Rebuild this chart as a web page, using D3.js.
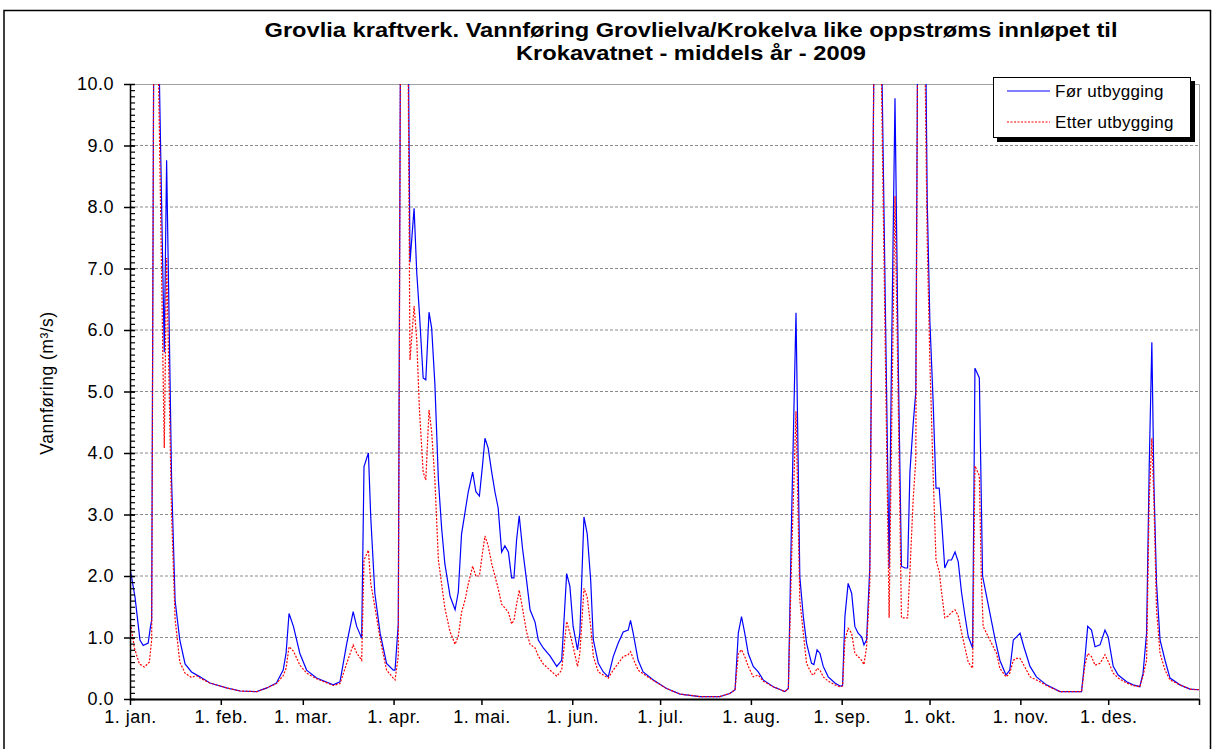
<!DOCTYPE html>
<html lang="no">
<head>
<meta charset="UTF-8">
<title>Grovlia kraftverk</title>
<script src="https://d3js.org/d3.v7.min.js"></script>
<style>
  body { margin: 0; background: #fff; }
  text { font-family: "Liberation Sans", Arial, sans-serif; }
</style>
</head>
<body>
<div class="canvas"></div>
<script>
  // dag i året (0 = 1. jan) og vannføring m3/s, lest av figuren
  const forData = [[0,2.13],[1.7,1.66],[3.4,0.96],[4.5,0.87],[6.2,0.91],[7,1.18],[7.4,1.28],[8.2,12],[9.5,11.5],[11.7,5.64],[12.5,8.76],[14.2,3.56],[15.4,1.6],[17,0.96],[18.8,0.57],[21,0.44],[23.9,0.36],[27.3,0.26],[33,0.18],[37.6,0.13],[43.3,0.12],[46.7,0.18],[50,0.26],[52.3,0.47],[53.3,0.75],[54.3,1.39],[55.8,1.18],[58,0.74],[60.3,0.47],[63.7,0.34],[69.4,0.23],[71.7,0.28],[74,0.9],[76.2,1.42],[77.4,1.18],[79.1,0.99],[79.9,3.78],[81.4,4.0],[82.2,2.96],[83.6,1.72],[85.4,1.07],[87.6,0.58],[89.9,0.47],[90.5,0.47],[91.6,1.22],[92.6,14],[94.5,14],[95.6,7.1],[97,7.98],[97.9,6.94],[98.8,6.29],[100.1,5.22],[101,5.19],[102.1,6.29],[103,6.03],[104.1,5.12],[105.3,3.56],[106.4,2.78],[107.5,2.2],[109.3,1.67],[111,1.45],[112.1,1.74],[113.2,2.68],[114.4,3.04],[115.5,3.37],[117,3.69],[118.1,3.37],[119.3,3.3],[120.4,3.82],[121.2,4.24],[122.3,4.08],[123.5,3.69],[124.6,3.37],[125.7,3.11],[126.9,2.39],[128,2.49],[129.2,2.39],[130.3,1.97],[131.1,1.97],[132,2.59],[132.9,2.98],[134,2.46],[135.4,1.93],[136.6,1.45],[138.3,1.25],[139.4,0.96],[141.1,0.83],[143.4,0.7],[145.7,0.53],[147.4,0.63],[149.1,2.04],[150.2,1.83],[151.3,1.18],[152.8,0.8],[153.6,1.07],[155,2.96],[156.1,2.69],[157.3,1.93],[158.2,0.96],[159.9,0.58],[161.6,0.44],[163.3,0.36],[165,0.69],[166.7,0.91],[168.4,1.09],[170.1,1.12],[170.9,1.28],[171.8,1.07],[173.5,0.63],[175.2,0.44],[178.7,0.31],[183.2,0.17],[187.8,0.08],[194.6,0.04],[201.4,0.04],[204.8,0.09],[206.6,0.15],[207.7,1.07],[208.8,1.34],[209.9,1.07],[211.1,0.74],[212.8,0.53],[214.5,0.44],[216.2,0.31],[219.6,0.2],[223.6,0.12],[224.8,0.17],[225.9,2.96],[227.4,6.28],[228.7,1.99],[229.9,1.34],[231,0.91],[232.7,0.58],[233.5,0.56],[234.6,0.8],[235.6,0.74],[236.7,0.53],[238.4,0.36],[240.7,0.26],[242.4,0.21],[243.3,0.22],[244.1,1.34],[245.2,1.88],[246.4,1.72],[247.5,1.18],[248.6,1.07],[249.8,1.01],[250.6,0.88],[251.5,0.96],[252.6,2.15],[254.6,14],[255.6,14],[259.2,2.13],[260,5.51],[261.2,9.77],[262.3,5.51],[263.4,2.16],[264.6,2.13],[265.5,2.13],[266.3,3.69],[267.4,4.47],[268.3,4.99],[269.3,14],[271,14],[272.2,8.11],[273.1,6.16],[274.2,4.86],[275.2,3.43],[276.3,3.43],[277.1,2.91],[278.2,2.13],[279.4,2.26],[280.5,2.26],[281.7,2.39],[282.8,2.23],[283.9,1.74],[285.1,1.35],[286.2,1.02],[287.7,0.83],[288.5,5.38],[290,5.22],[291.1,2.0],[292.5,1.66],[295.3,0.99],[297,0.63],[299.1,0.39],[300.4,0.47],[301.6,0.96],[302.7,1.01],[303.9,1.07],[305.2,0.85],[307.3,0.53],[309.5,0.36],[312.9,0.23],[317.5,0.12],[324.9,0.12],[326,0.63],[327,1.18],[328.3,1.12],[329.5,0.85],[331.2,0.88],[332.9,1.12],[334,1.01],[335.7,0.53],[337.4,0.39],[340.3,0.28],[342.5,0.23],[344.8,0.2],[345.9,0.42],[347.1,1.07],[348,3.78],[348.9,5.8],[349.6,3.51],[350.5,1.88],[351.7,0.96],[353.4,0.63],[355.1,0.34],[358.5,0.23],[361.9,0.16],[365,0.15]]

  const etterData = [[0,1.28],[1.5,0.83],[3.2,0.57],[4.9,0.52],[6.6,0.6],[7.4,0.96],[8.2,12],[9.3,11.5],[11.7,4.08],[12.5,7.17],[14.2,3.0],[15.4,1.3],[17,0.6],[18.8,0.42],[21,0.35],[22.7,0.38],[23.9,0.34],[27.3,0.26],[33,0.18],[37.6,0.13],[43.3,0.12],[46.7,0.18],[50,0.25],[52.3,0.38],[53.3,0.5],[54.3,0.85],[55.8,0.78],[58,0.55],[60.3,0.42],[63.7,0.33],[69.4,0.22],[71.7,0.25],[74,0.58],[76.2,0.88],[77.4,0.75],[79.1,0.63],[79.9,2.26],[81.4,2.42],[82.2,1.88],[83.6,1.5],[85.4,0.98],[87.6,0.47],[89.9,0.34],[90.5,0.31],[91.6,0.7],[92.6,14],[94.5,14],[95.6,5.51],[97,6.39],[97.9,5.84],[98.8,4.73],[100.1,3.69],[101,3.56],[102.1,4.7],[103,4.34],[104.1,3.56],[105.3,2.26],[106.4,1.87],[107.5,1.48],[109.3,1.09],[111,0.89],[112.1,1.02],[113.2,1.41],[114.4,1.61],[115.5,1.87],[117,2.16],[118.1,2.0],[119.3,2.0],[120.4,2.39],[121.2,2.65],[122.3,2.49],[123.5,2.2],[124.6,2.0],[125.7,1.8],[126.9,1.54],[128,1.48],[129.2,1.41],[130.3,1.22],[131.1,1.28],[132,1.54],[132.9,1.77],[134,1.48],[135.4,1.09],[136.6,0.89],[138.3,0.83],[139.4,0.7],[141.1,0.57],[143.4,0.47],[145.7,0.37],[147.4,0.47],[149.1,1.26],[150.2,1.07],[151.3,0.85],[152.8,0.53],[153.6,0.74],[155,1.8],[156.1,1.66],[157.3,1.18],[158.2,0.69],[159.9,0.44],[161.6,0.39],[163.3,0.34],[165,0.47],[166.7,0.58],[168.4,0.69],[170.1,0.72],[170.9,0.77],[171.8,0.66],[173.5,0.47],[175.2,0.41],[178.7,0.3],[183.2,0.17],[187.8,0.08],[194.6,0.04],[201.4,0.04],[204.8,0.09],[206.6,0.15],[207.7,0.74],[208.8,0.8],[209.9,0.69],[211.1,0.53],[212.8,0.36],[214.5,0.39],[216.2,0.29],[219.6,0.2],[223.6,0.12],[224.8,0.17],[225.9,2.3],[227.4,4.68],[228.7,1.61],[229.9,1.07],[231,0.58],[232.7,0.41],[233.5,0.39],[234.6,0.5],[235.6,0.47],[236.7,0.36],[238.4,0.29],[240.7,0.23],[242.4,0.2],[243.3,0.21],[244.1,0.96],[245.2,1.15],[246.4,1.07],[247.5,0.74],[248.6,0.69],[249.8,0.63],[250.6,0.56],[251.5,0.85],[252.6,1.88],[254.6,14],[255.4,14],[259.2,1.32],[260,4.21],[261.2,8.18],[262.3,4.86],[263.4,1.32],[264.6,1.32],[265.5,1.32],[266.3,2.07],[267.4,3.24],[268.3,3.89],[269.2,14],[270.5,14],[272.2,7.46],[273.1,5.51],[274.2,3.69],[275.2,2.26],[276.3,2.07],[277.1,1.74],[278.2,1.32],[279.4,1.35],[280.5,1.41],[281.7,1.45],[282.8,1.35],[283.9,1.09],[285.1,0.83],[286.2,0.6],[287.7,0.5],[288.5,3.79],[290,3.63],[290.7,1.93],[291.3,1.18],[293.6,0.96],[295.9,0.74],[297,0.5],[299.1,0.36],[300.4,0.42],[301.6,0.63],[302.7,0.66],[303.9,0.66],[305.2,0.55],[307.3,0.36],[309.5,0.31],[312.9,0.22],[317.5,0.12],[324.9,0.12],[326,0.53],[327,0.74],[328.3,0.69],[329.5,0.55],[331.2,0.58],[332.9,0.72],[334,0.61],[335.7,0.42],[337.4,0.34],[340.3,0.26],[342.5,0.22],[344.8,0.2],[345.9,0.38],[347.1,0.63],[348,3.24],[348.9,4.24],[349.6,3.24],[350.5,1.45],[351.7,0.74],[353.4,0.47],[355.1,0.31],[358.5,0.23],[361.9,0.16],[365,0.15]]

  const maaneder = ['1. jan.','1. feb.','1. mar.','1. apr.','1. mai.','1. jun.','1. jul.','1. aug.','1. sep.','1. okt.','1. nov.','1. des.']
  const yTicks = [0,1,2,3,4,5,6,7,8,9,10]
  const serier = ['Før utbygging', 'Etter utbygging']

  const W = 1214, H = 749
  const pL = 130, pR = 1199, pT = 84, pB = 699

  const svg = d3.select('.canvas')
    .append('svg')
    .attr('width', W)
    .attr('height', H)

  // ramme rundt hele figuren
  svg.append('path')
    .attr('d', `M4,${H} V10.5 H1210.5 V${H}`)
    .attr('fill', 'none')
    .attr('stroke', '#000')
    .attr('stroke-width', 1.5)

  const t0 = Date.UTC(2009, 0, 1)
  const dato = d => new Date(t0 + d * 864e5)

  const x = d3.scaleUtc()
    .domain([dato(0), dato(365)])
    .range([pL, pR])
  const y = d3.scaleLinear()
    .domain([0, 10])
    .range([pB, pT])

  // rutenett
  svg.append('g')
    .selectAll('line')
    .data(yTicks.filter(v => v > 0 && v < 10))
    .enter()
    .append('line')
    .attr('x1', pL).attr('x2', pR)
    .attr('y1', d => y(d)).attr('y2', d => y(d))
    .attr('stroke', '#8a8a8a')
    .attr('stroke-dasharray', '3,2')
    .attr('stroke-width', 1)

  // plotramme topp og høyre
  svg.append('path')
    .attr('d', `M${pL},${pT + 0.5} H${pR + 0.5} V${pB}`)
    .attr('fill', 'none')
    .attr('stroke', '#a0a0a0')
    .attr('stroke-width', 1)

  svg.append('clipPath').attr('id', 'clip')
    .append('rect')
    .attr('x', pL).attr('y', pT)
    .attr('width', pR - pL).attr('height', pB - pT)

  const linje = d3.line()
    .x(d => x(dato(d[0])))
    .y(d => y(d[1]))

  const g = svg.append('g').attr('clip-path', 'url(#clip)')
  g.append('path')
    .datum(forData)
    .attr('fill', 'none')
    .attr('stroke', '#0000ff')
    .attr('stroke-width', 1.2)
    .attr('d', linje)
  g.append('path')
    .datum(etterData)
    .attr('fill', 'none')
    .attr('stroke', '#ff0000')
    .attr('stroke-width', 1.2)
    .attr('stroke-dasharray', '2,1.5')
    .attr('d', linje)

  // y-akse: små streker innover, store streker på tvers
  const yMinor = svg.append('g')
    .attr('transform', `translate(${pL},0)`)
    .call(d3.axisRight(y).tickValues(d3.range(0, 100).map(i => i / 10)).tickSize(5).tickFormat(''))
  yMinor.select('.domain').remove()
  yMinor.selectAll('line').attr('stroke', '#000').attr('stroke-width', 1.2)

  const yAxis = svg.append('g')
    .attr('transform', `translate(${pL},0)`)
    .call(d3.axisLeft(y).tickValues(yTicks).tickSize(6).tickPadding(10).tickFormat(d3.format('.1f')))
  yAxis.select('.domain').attr('stroke-width', 1.5).attr('d', `M0.5,${pT}V${pB}`)
  yAxis.selectAll('.tick line').attr('x1', 5).attr('stroke-width', 1.5)
  yAxis.selectAll('.tick text')
    .attr('font-size', 18)
    .attr('letter-spacing', 0.5)
    .attr('fill', '#000')

  // x-akse
  const maanedStart = d3.utcMonth.range(dato(0), dato(365))
  const xAxis = svg.append('g')
    .attr('transform', `translate(0,${pB})`)
    .call(d3.axisBottom(x)
      .tickValues(maanedStart.concat([dato(365)]))
      .tickSize(6)
      .tickPadding(5)
      .tickFormat((d, i) => maaneder[i] || ''))
  xAxis.select('.domain').attr('stroke-width', 2).attr('d', `M${pL},0.5H${pR}`)
  xAxis.selectAll('.tick line').attr('stroke-width', 1.5)
  xAxis.selectAll('.tick text')
    .attr('font-size', 18)
    .attr('letter-spacing', 0.5)
    .attr('fill', '#000')

  // aksetittel
  svg.append('text')
    .attr('transform', 'translate(53,383) rotate(-90)')
    .attr('text-anchor', 'middle')
    .attr('font-size', 17.5)
    .attr('letter-spacing', 0.5)
    .text('Vannføring  (m³/s)')

  // tittel
  const tittel = ['Grovlia kraftverk. Vannføring Grovlielva/Krokelva like oppstrøms innløpet til',
    'Krokavatnet - middels år - 2009']
  const tittelBredde = [853, 350]
  svg.append('g')
    .selectAll('text')
    .data(tittel)
    .enter()
    .append('text')
    .attr('x', 691)
    .attr('y', (d, i) => 37 + i * 23)
    .attr('text-anchor', 'middle')
    .attr('font-size', 19.5)
    .attr('font-weight', 'bold')
    .attr('textLength', (d, i) => tittelBredde[i])
    .attr('lengthAdjust', 'spacingAndGlyphs')
    .text(d => d)

  // tegnforklaring
  const leg = svg.append('g').attr('transform', 'translate(993,77)')
  leg.append('rect')
    .attr('x', 4).attr('y', 4).attr('width', 198).attr('height', 61)
    .attr('fill', '#000')
  leg.append('rect')
    .attr('x', 0.5).attr('y', 0.5).attr('width', 197).attr('height', 60)
    .attr('fill', '#fff').attr('stroke', '#000')
  const stiler = [{ farge: '#0000ff', strek: null }, { farge: '#ff0000', strek: '2,1.5' }]
  serier.forEach((s, i) => {
    leg.append('line')
      .attr('x1', 14).attr('x2', 57)
      .attr('y1', 14 + i * 31).attr('y2', 14 + i * 31)
      .attr('stroke', stiler[i].farge)
      .attr('stroke-width', 1.2)
      .attr('stroke-dasharray', stiler[i].strek)
    leg.append('text')
      .attr('x', 62).attr('y', 20 + i * 31)
      .attr('font-size', 17)
      .attr('letter-spacing', 0.3)
      .text(s)
  })
</script>
</body>
</html>
